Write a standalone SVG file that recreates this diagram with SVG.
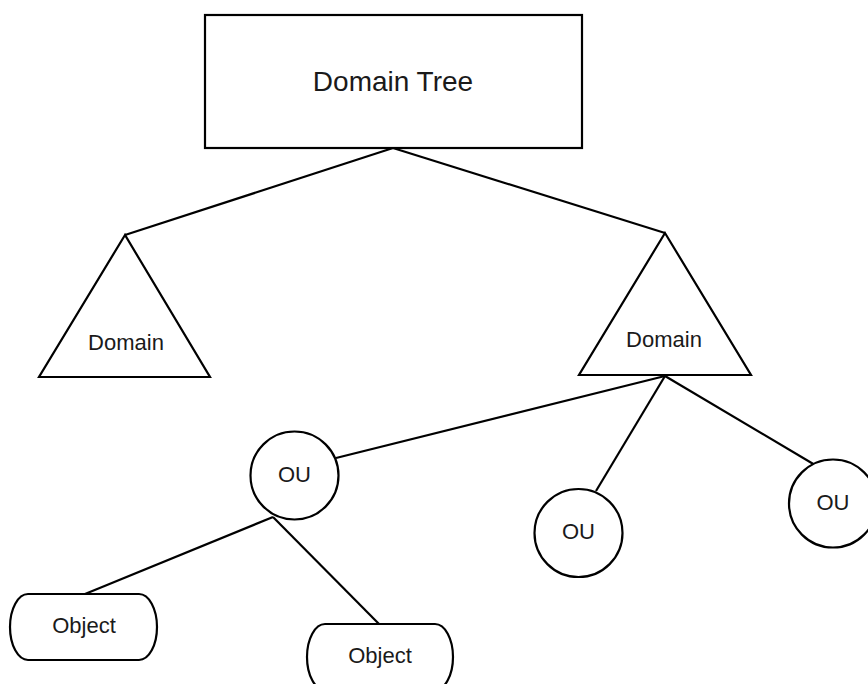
<svg xmlns="http://www.w3.org/2000/svg" width="868" height="684" viewBox="0 0 868 684">
  <style>
    .shape { fill: #ffffff; stroke: #000000; stroke-width: 2.2; }
    .edge { fill: none; stroke: #000000; stroke-width: 2.2; }
    .label { font-family: "Liberation Sans", Arial, sans-serif; font-size: 22px; fill: #1a1a1a; text-anchor: middle; }
    .title { font-size: 28px; }
  </style>
  <rect width="868" height="684" fill="#ffffff"/>

  <!-- connectors -->
  <g id="connectors">
    <line class="edge" x1="393" y1="148" x2="125" y2="235"/>
    <line class="edge" x1="393" y1="148" x2="665" y2="233"/>
    <line class="edge" x1="665" y1="376" x2="336" y2="458"/>
    <line class="edge" x1="665" y1="376" x2="596" y2="491"/>
    <line class="edge" x1="665" y1="376" x2="815" y2="465"/>
    <line class="edge" x1="273" y1="517" x2="85" y2="594"/>
    <line class="edge" x1="273" y1="517" x2="379" y2="624"/>
  </g>

  <!-- root -->
  <g id="domain-tree">
    <rect class="shape" x="205" y="15" width="377" height="133"/>
    <text class="label title" x="393" y="91">Domain Tree</text>
  </g>

  <!-- domains -->
  <g id="domain-left">
    <polygon class="shape" points="125,235 39,377 210,377"/>
    <text class="label" x="126" y="350">Domain</text>
  </g>
  <g id="domain-right">
    <polygon class="shape" points="665,233 579,375 751,375"/>
    <text class="label" x="664" y="347">Domain</text>
  </g>

  <!-- organisational units -->
  <g id="ou-left">
    <circle class="shape" cx="294.5" cy="475.5" r="44"/>
    <text class="label" x="294.5" y="482">OU</text>
  </g>
  <g id="ou-middle">
    <circle class="shape" cx="578.5" cy="533" r="44"/>
    <text class="label" x="578.5" y="539">OU</text>
  </g>
  <g id="ou-right">
    <circle class="shape" cx="833" cy="503.5" r="44"/>
    <text class="label" x="833" y="510">OU</text>
  </g>

  <!-- objects -->
  <g id="object-left">
    <rect class="shape" x="10" y="594" width="147" height="66" rx="18" ry="33"/>
    <text class="label" x="84" y="633">Object</text>
  </g>
  <g id="object-right">
    <rect class="shape" x="307" y="624" width="146" height="66" rx="18" ry="33"/>
    <text class="label" x="380" y="663">Object</text>
  </g>
</svg>
